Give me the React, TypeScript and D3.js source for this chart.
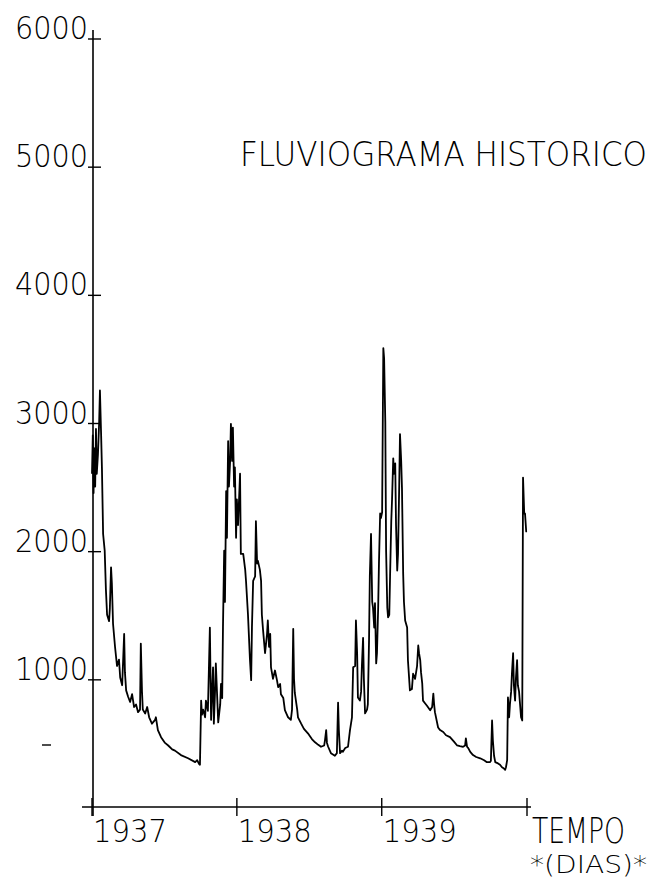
import React from "react";
import * as d3 from "d3";

// Daily discharge (day index since 1 Jan 1937, flow)
const days: number[] = [
  0, 2, 4, 5, 8, 10, 12, 15, 18, 20, 23, 25, 28, 32, 35, 38, 43, 45, 48, 50, 53, 58, 63, 68, 71, 76, 81, 83, 86, 91, 96, 101, 106, 111, 116, 121, 123, 126, 128, 134, 139, 144, 151, 159, 161, 166, 174, 184, 192, 202, 209, 224, 242, 260, 265, 270, 272,
  275, 277, 280, 285, 287, 292, 297, 300, 302, 305, 307, 310, 312, 318, 323, 325, 328, 330, 333, 335, 338, 340, 343, 345, 348, 350, 353, 355, 358, 360, 363,
  365, 368, 373, 375, 381, 386, 388, 393, 398, 401, 403, 406, 411, 413, 416, 418, 423, 426, 428, 431, 436, 441, 443, 446, 449, 451, 456, 461, 466, 469, 474, 476, 482, 486, 494, 501, 504, 507, 509, 511, 517, 519, 527, 534, 544, 554, 562, 570, 577, 585, 587, 590, 592, 595, 602, 607, 612, 617, 620, 622, 625, 630, 632, 638, 645, 650, 655, 658, 663, 665, 668, 670, 675, 678, 680, 683, 685, 688, 693, 695, 698, 700, 703, 706, 708, 711, 713, 716, 718, 721, 723, 726, 728, 731, 734,
  736, 739, 741, 744, 746, 749, 751, 754, 756, 759, 761, 764, 766, 769, 771, 774, 776, 779, 781, 784, 786, 789, 794, 796, 801, 806, 809, 814, 819, 822, 824, 827, 829, 832, 834, 839, 844, 852, 857, 860, 862, 864, 872, 877, 885, 892, 902, 912, 920, 927, 935, 940, 942, 945, 948, 953, 960, 968, 978, 988, 995, 1003, 1005, 1008, 1010, 1013, 1016, 1023, 1028, 1033, 1038, 1041, 1043, 1046, 1048, 1051, 1053, 1056, 1058, 1061, 1063, 1066, 1068, 1071, 1073, 1076, 1079, 1081, 1084, 1086, 1089, 1091, 1094, 1096,
];
const flows: number[] = [
  2600, 2900, 2450, 2800, 2500, 2950, 2600, 2750, 3000, 3250, 2900, 2650, 2130, 2000, 1700, 1500, 1450, 1550, 1870, 1750, 1430, 1250, 1100, 1150, 1010, 950, 1350, 1050, 910, 860, 820, 880, 780, 800, 740, 760, 1275, 900, 760, 730, 780, 700, 650, 680, 700, 600, 545, 500, 480, 450, 440, 405, 380, 350, 365, 335, 330,
  830, 720, 760, 700, 830, 750, 1400, 680, 850, 1090, 650, 900, 1120, 660, 800, 960, 850, 1400, 2000, 1600, 2465, 2100, 2855, 2500, 2700, 2990, 2700, 2960, 2500, 2650, 2100,
  2400, 2200, 2600, 1975, 1975, 1850, 1765, 1500, 1150, 990, 1400, 1765, 1800, 2230, 1900, 1920, 1850, 1765, 1500, 1380, 1200, 1350, 1455, 1250, 1350, 1090, 1000, 1065, 990, 935, 960, 880, 850, 755, 700, 680, 760, 1390, 1000, 890, 760, 700, 650, 610, 575, 530, 505, 485, 470, 480, 520, 600, 500, 470, 420, 410, 400, 420, 815, 600, 420, 440, 430, 460, 470, 600, 700, 1090, 1100, 1455, 1200, 855, 830, 900, 1100, 1320, 1000, 730, 760, 800, 1300, 1800, 2130, 1600, 1555, 1400, 1590, 1120, 1200, 1555, 1900, 2290, 2255, 2300, 3580,
  3500, 3000, 2000, 1555, 1480, 1500, 1800, 2230, 2400, 2720, 2600, 2680, 2200, 1845, 1975, 2500, 2910, 2700, 2490, 1820, 1600, 1455, 1400, 1145, 910, 920, 1040, 1000, 1100, 1260, 1200, 1145, 1050, 965, 830, 810, 790, 755, 780, 885, 800, 740, 620, 600, 585, 560, 545, 510, 480, 475, 470, 480, 535, 470, 460, 430, 405, 390, 380, 365, 350, 350, 360, 675, 520, 400, 350, 340, 330, 310, 300, 290, 310, 365, 855, 700, 800, 900, 1040, 1200, 950, 830, 1000, 1145, 950, 900, 780, 700, 675, 2570, 2290, 2290, 2150, 2150,
];

const yTicks: number[] = [1000, 2000, 3000, 4000, 5000, 6000];
const yearTicks: number[] = [0, 365, 730, 1096];
const yearLabels: string[] = ["1937", "1938", "1939"];
const title = "FLUVIOGRAMA HISTORICO";
const xTitle = "TEMPO";
const xUnit = "*(DIAS)*";

const W = 657;
const H = 881;
const FONT = "'DejaVu Sans', sans-serif";

export default function App() {
  const x = d3.scaleLinear().domain([0, 1096]).range([92, 527]);
  const y = d3.scaleLinear().domain([0, 6000]).range([807, 38]);
  const pts: [number, number][] = days.map((d, i) => [d, flows[i]]);
  const line = d3
    .line<[number, number]>()
    .x((d) => x(d[0]))
    .y((d) => y(d[1]))
    .curve(d3.curveLinear);

  const x0 = x(0);
  const yBase = y(0);

  return (
    <svg
      width={W}
      height={H}
      style={{ position: "absolute", left: 0, top: 0, background: "#fff" }}
    >
      <rect x={0} y={0} width={W} height={H} fill="#fff" />
      {/* axes */}
      <line x1={x0 + 1} x2={x0 + 1} y1={30} y2={816} stroke="#000" strokeWidth={1.6} />
      <line x1={82} x2={531} y1={yBase} y2={yBase} stroke="#000" strokeWidth={1.6} />
      {yTicks.map((t) => (
        <g key={t}>
          <line x1={88} x2={101} y1={y(t) + 1} y2={y(t) + 1} stroke="#000" strokeWidth={1.4} />
          <text
            x={15}
            y={y(t) + 1}
            fontFamily={FONT}
            fontWeight={200}
            fontSize={32}
            textLength={73}
            lengthAdjust="spacingAndGlyphs"
            fill="#000"
          >
            {t}
          </text>
        </g>
      ))}
      <line x1={42} x2={51} y1={745} y2={745} stroke="#000" strokeWidth={1.4} />
      {yearTicks.map((d) => (
        <line key={d} x1={x(d)} x2={x(d)} y1={798} y2={816} stroke="#000" strokeWidth={1.4} />
      ))}
      {yearLabels.map((lab, i) => (
        <text
          key={lab}
          x={x(yearTicks[i]) + 1}
          y={842}
          fontFamily={FONT}
          fontWeight={200}
          fontSize={32}
          textLength={74}
          lengthAdjust="spacingAndGlyphs"
          fill="#000"
        >
          {lab}
        </text>
      ))}
      <text
        x={532}
        y={843}
        fontFamily={FONT}
        fontWeight={200}
        fontSize={36}
        textLength={93}
        lengthAdjust="spacingAndGlyphs"
        fill="#000"
      >
        {xTitle}
      </text>
      <text
        x={530}
        y={873}
        fontFamily={FONT}
        fontWeight={200}
        fontSize={24}
        textLength={117}
        lengthAdjust="spacingAndGlyphs"
        fill="#000"
      >
        {xUnit}
      </text>
      <g transform="translate(240,166) scale(1,1.2)">
        <text
          x={0}
          y={0}
          fontFamily={FONT}
          fontWeight={200}
          fontSize={28}
          textLength={407}
          lengthAdjust="spacingAndGlyphs"
          fill="#000"
        >
          {title}
        </text>
      </g>
      <path d={line(pts) || ""} fill="none" stroke="#000" strokeWidth={1.8} strokeLinejoin="round" />
    </svg>
  );
}
